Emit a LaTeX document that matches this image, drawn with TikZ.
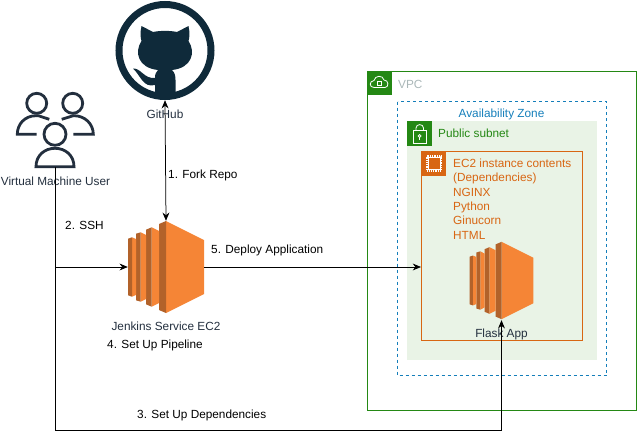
\documentclass[tikz,border=0pt]{standalone}
\usepackage{fontspec}
\setmainfont{Liberation Sans}
\usepackage{xcolor}
\usepackage{tikz}
\usetikzlibrary{
  arrows.meta,
  positioning
}
\definecolor{ink}{HTML}{232F3E}
\definecolor{octocat}{HTML}{0F2A3A}
\definecolor{vpcgreen}{HTML}{248814}
\definecolor{azblue}{HTML}{147EBA}
\definecolor{subnetfill}{HTML}{E9F3E6}
\definecolor{ec2line}{HTML}{D86613}
\definecolor{ec2light}{HTML}{F58536}
\definecolor{ec2dark}{HTML}{B2622A}
\definecolor{vpcgrey}{HTML}{AAB7B8}
\tikzset{
  >={Stealth[length=2.9mm,width=2.4mm]},
  figure label/.style={font=\fontsize{11.8}{14.4}\selectfont,align=left},
  step label/.style={figure label,inner sep=0pt,anchor=west},
  icon label/.style={figure label,inner sep=0pt,text=ink},
  flow/.style={->,line width=.75pt},
  bbox/.style={rectangle,inner sep=0pt},
  badge/.style={rectangle,inner sep=0pt,minimum size=24.5pt},
  person/.style={draw=ink,line width=2.8pt,fill=none},
  glyph/.style={draw=white,line width=.8pt},
  ec2 icon/.pic={
    \fill[ec2light] (0,-46) -- (38,-27) -- (38,27) -- (0,46) -- cycle;
    \fill[ec2dark] (-7,-43) -- (0,-46) -- (0,46) -- (-7,43) -- cycle;
    \fill[ec2light] (-14.3,-39.7) -- (-7,-36) -- (-7,36) -- (-14.3,39.7) -- cycle;
    \fill[ec2dark] (-20,-37.3) -- (-14.3,-39.7) -- (-14.3,39.7) -- (-20,37.3) -- cycle;
    \fill[ec2light] (-25.3,-34.7) -- (-20,-32) -- (-20,32) -- (-25.3,34.7) -- cycle;
    \fill[ec2dark] (-30,-33.3) -- (-25.3,-34.7) -- (-25.3,34.7) -- (-30,33.3) -- cycle;
    \fill[ec2light] (-34,-29.7) -- (-30,-28) -- (-30,28) -- (-34,29.7) -- cycle;
    \fill[ec2dark] (-38,-28.3) -- (-34,-29.7) -- (-34,29.7) -- (-38,28.3) -- cycle;
  }
}

\begin{document}
\begin{tikzpicture}[x=1pt,y=-1pt]
  \useasboundingbox (0,0) rectangle (637,439);

  % containers
  \draw[vpcgreen,line width=.9pt] (367,71) rectangle (636,410);
  \draw[azblue,line width=1pt,dash pattern=on 3pt off 3pt] (397.5,101.5) rectangle (606.5,375.5);
  \fill[subnetfill] (407,121) rectangle (597,360);
  \draw[ec2line,line width=.9pt] (421.5,151) rectangle (582,340);

  \node[badge,fill=vpcgreen] (vpcbadge) at (379.5,83) {};
  \node[badge,fill=vpcgreen] (subnetbadge) at (419.5,133.5) {};
  \node[badge,fill=ec2line] (chipbadge) at (434,163.5) {};

  % cloud and lock of the vpc
  \draw[glyph] (374,87.5) .. controls (369,87.5) and (369,81) .. (374,80.5)
    .. controls (375,75) and (383,75) .. (384,80) .. controls (389,80) and (389,87.5) .. (385,87.5) -- cycle;
  \draw[glyph] (377,81.5) rectangle (381.5,85);
  % lock of the subnet
  \draw[glyph] (413.5,130.5) rectangle (426,143);
  \draw[glyph] (416,130.5) -- (416,128) .. controls (416,123.5) and (423.5,123.5) .. (423.5,128) -- (423.5,130.5);
  \draw[glyph] (419.7,136) circle (1.4);
  \draw[glyph] (419.7,137.4) -- (419.7,140);
  % chip
  \draw[white,line width=2.2pt,dash pattern=on .9pt off .9pt] (427,156.5) rectangle (441,170.5);
  \fill[white] (427.5,157) rectangle (440.5,170);
  \fill[ec2line] (428.5,158) rectangle (439.5,169);

  \node[figure label,inner sep=0pt,anchor=west,text=vpcgrey] (vpclabel) at (398,84) {VPC};
  \node[figure label,inner sep=0pt,text=azblue] (azlabel) at (501.5,114) {Availability Zone};
  \node[figure label,inner sep=0pt,anchor=west,text=vpcgreen] (subnetlabel) at (438,133.5) {Public subnet};
  \node[figure label,inner sep=0pt,anchor=north west,text=ec2line] (contents) at (453,158.5)
    {EC2 instance contents\\(Dependencies)\\NGINX\\Python\\Ginucorn\\HTML};

  % github
  \node[bbox,circle,minimum size=99pt] (github) at (165,50.5) {};
  \draw[octocat,line width=7pt] (github.center) circle (46);
  \fill[octocat] (141.5,26) -- (153,32) .. controls (160,30.5) and (170,30.5) .. (177,32)
    -- (188.5,26) .. controls (190,33) and (189.5,38) .. (188.5,41)
    .. controls (196,52) and (192,68) .. (172,70) .. controls (175,73) and (175.5,76) .. (175.5,80)
    -- (175.5,94) -- (155,94) -- (155,85) .. controls (143,88) and (141,76) .. (133,68.5)
    .. controls (141,68) and (144,79) .. (155,78) .. controls (155,74) and (156,72) .. (158,70)
    .. controls (138,68) and (134,52) .. (141.5,41) .. controls (140.5,38) and (140,33) .. (141.5,26) -- cycle;
  \node[icon label] (githublabel) at (165,114) {GitHub};

  % users
  \node[bbox,minimum width=80pt,minimum height=78pt] (vmuser) at (55,128) {};
  \draw[person] (36.7,103.3) circle (10);
  \draw[person] (72.7,103.3) circle (10);
  \draw[person] (55,134.3) circle (11);
  \draw[person] (36.7,134.3) -- (17.3,134.3) .. controls (17.3,124) and (25,115.7) .. (36,115.7)
    -- (38.3,115.7) -- (49.3,119.3);
  \draw[person] (73.3,134.3) -- (93.3,134.3) .. controls (93.3,124) and (85,115.7) .. (74,115.7)
    -- (73.3,115.7) -- (61.7,119.3);
  \draw[person] (36,166.7) .. controls (36,155) and (45,148.3) .. (55,148.3)
    .. controls (65,148.3) and (74,155) .. (74,166.7) -- cycle;
  \node[icon label] (userlabel) at (55.5,181.5) {Virtual Machine User};

  % ec2 instances
  \node[bbox,minimum width=76pt,minimum height=92pt] (jenkins) at (166,267) {};
  \pic at (jenkins.center) {ec2 icon};
  \node[bbox,minimum width=63pt,minimum height=79pt] (flask) at (501.5,280.5) {};
  \pic[scale=.84] at (flask.center) {ec2 icon};
  \node[icon label] (jenkinslabel) at (166,326.5) {Jenkins Service EC2};
  \node[icon label] (flasklabel) at (501.5,334) {Flask App};

  % connectors
  \coordinate (elbow) at (55,430);
  \coordinate (hub) at (421,267);
  \draw[flow,<->] (github.south) -- (jenkins.north);
  \draw[flow] (vmuser.south) |- (jenkins.west);
  \draw[flow] (jenkins.east) -- (hub);
  \draw[flow] (vmuser.south) -- (elbow) -| (flask.south);

  % step labels
  \node[step label] (forklabel) at (168,175) {1. Fork Repo};
  \node[step label] (sshlabel) at (65,225.5) {2. SSH};
  \node[step label] (deploylabel) at (211,250) {5. Deploy Application};
  \node[step label] (pipelinelabel) at (107,345) {4. Set Up Pipeline};
  \node[step label] (depslabel) at (137,415) {3. Set Up Dependencies};
\end{tikzpicture}
\end{document}
